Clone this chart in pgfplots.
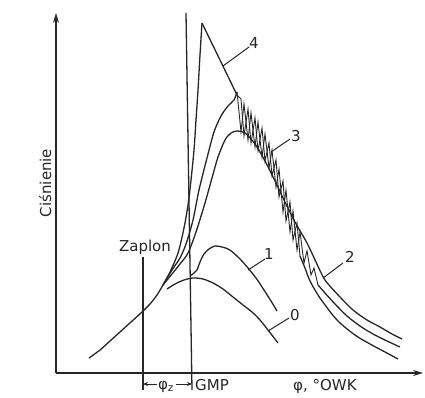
\documentclass[border=0pt]{standalone}
\usepackage{fontspec}
\setmainfont{DejaVu Sans}
\usepackage{pgfplots}
\pgfplotsset{compat=1.18}
\usetikzlibrary{arrows.meta}
\definecolor{ink}{HTML}{262626}
\newcommand\lbl{\fontsize{15}{18}\selectfont}

\begin{document}
\begin{tikzpicture}
\begin{axis}[
  x=1pt, y=1pt,
  xmin=56, xmax=423, ymin=24, ymax=384,
  axis lines=left,
  axis line style={ink, line width=1.3pt, -{Stealth[length=10pt,width=6pt]}},
  xtick=\empty, ytick=\empty,
  clip=false,
  every axis plot/.append style={ink, line width=1.3pt, mark=none},
]
% page frame
\path (axis cs:0,0) rectangle (axis cs:425,397);

% compression up to ignition
\addplot[smooth] coordinates {(89,39) (100,47) (110,56) (120,65) (131,75) (142,85) (150,93) (157,102) (163,112)};

% 0: motoring curve
\addplot[smooth] coordinates {(167,108) (175,113) (184,117) (193,119) (203,118) (213,114) (223,108) (233,100) (243,92) (252,85) (260,77) (268,67) (278,54)};

% 1: late ignition
\addplot[smooth] coordinates {(190,121) (194,124) (197,127) (200,135) (204,143) (209,148) (215,151) (222,150) (230,147) (240,138) (248,129) (256,119) (264,107) (271,96) (277,86)};

% 2: normal combustion
\addplot[smooth] coordinates {(163,112) (172,123) (180,133) (188,144) (196,165) (205,194) (212,219) (218,240) (225,257) (231,264) (237,266) (245,264) (255,253) (265,236) (275,216) (285,195) (295,175) (307,154) (316,135) (325,117) (340,100) (353,87) (367,77) (380,70) (392,63) (402,58)};

% 3: knocking combustion
\addplot[smooth] coordinates {(163,112) (172,127) (180,139) (186,153) (193,177) (199,207) (207,239) (214,265) (221,281) (228,291) (234,297) (237,305)};
\addplot[sharp plot, line width=0.9pt] coordinates {(237,305) (241,265) (244,293) (248,257) (251,284) (255,250) (258,275) (262,240) (265,263) (269,229) (272,247) (276,210) (279,228) (283,185) (286,207) (290,165) (293,186) (297,147) (300,165) (304,134) (307,146) (311,122) (314,129) (318,112)};
\addplot[smooth] coordinates {(318,112) (325,104) (335,93) (347,81) (360,71) (373,63) (387,56) (400,50)};

% 4: heavy knock
\addplot[smooth] coordinates {(163,112) (170,125) (178,144) (184,169) (188,192) (191,217) (194,247) (196,277) (198,307) (200,342) (202,374)};
\addplot[sharp plot] coordinates {(202,374) (237,302)};
\addplot[sharp plot, line width=0.9pt] coordinates {(237,302) (241,298) (244,261) (248,288) (251,254) (255,279) (258,246) (262,269) (265,236) (269,254) (272,221) (276,237) (279,200) (283,216) (286,176) (290,195) (293,157) (297,174) (300,141)};
\addplot[smooth] coordinates {(300,141) (305,129) (310,116) (320,99) (337,77) (355,62) (370,53) (385,45) (398,38)};

% TDC and ignition lines
\addplot[sharp plot] coordinates {(186,384) (192,7)};
\addplot[sharp plot] coordinates {(143,140) (143,7)};

% ignition advance arrows
\addplot[sharp plot, line width=0.9pt, -{Stealth[length=5pt,width=4pt]}] coordinates {(157,13) (143,13)};
\addplot[sharp plot, line width=0.9pt, -{Stealth[length=5pt,width=4pt]}] coordinates {(176,13) (192,13)};

% leaders
\addplot[sharp plot, line width=1pt] coordinates {(223,331) (249,350)};
\addplot[sharp plot, line width=1pt] coordinates {(271,245) (290,258)};
\addplot[sharp plot, line width=1pt] coordinates {(248,127) (265,138)};
\addplot[sharp plot, line width=1pt] coordinates {(323,119) (343,134)};
\addplot[sharp plot, line width=1pt] coordinates {(268,66) (289,79)};

\begin{scope}[every node/.style={text=ink, inner sep=0pt, font=\lbl}]
\node at (axis cs:254,354) {4};
\node at (axis cs:296,261) {3};
\node at (axis cs:269,143) {1};
\node at (axis cs:350,140) {2};
\node at (axis cs:295,82) {0};
\node[anchor=base] at (axis cs:145,146) {Zaplon};
\node[rotate=90, anchor=base] at (axis cs:51,214) {Ciśnienie};
\node[anchor=base west] at (axis cs:195,7) {GMP};
\node[anchor=base west] at (axis cs:293,7) {φ, °OWK};
\node[anchor=base] at (axis cs:166,8) {φ\textsubscript{z}};
\end{scope}
\end{axis}
\end{tikzpicture}
\end{document}
